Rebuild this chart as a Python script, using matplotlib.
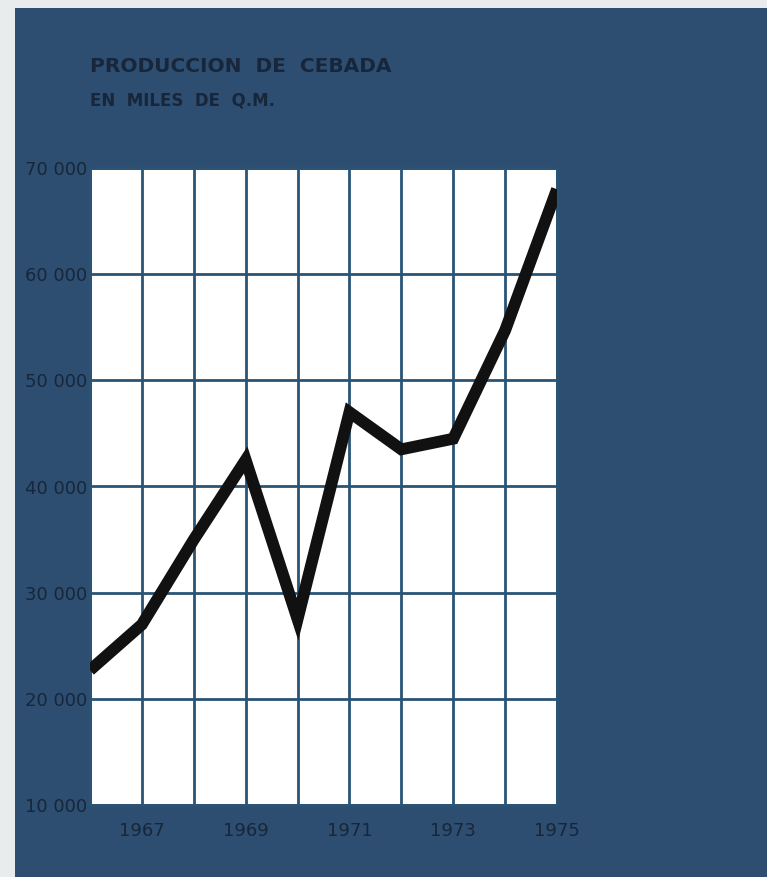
import matplotlib
matplotlib.use("Agg")
import matplotlib.pyplot as plt
from matplotlib.patches import Rectangle

# barley production, thousands of quintals
years = [1966, 1967, 1968, 1969, 1970, 1971, 1972, 1973, 1974, 1975]
production = [22700, 27000, 35000, 42500, 27500, 47000, 43500, 44500, 54700, 68000]

y_ticks = [10000, 20000, 30000, 40000, 50000, 60000, 70000]
y_labels = ["10 000", "20 000", "30 000", "40 000", "50 000", "60 000", "70 000"]
x_ticks = [1967, 1969, 1971, 1973, 1975]

BLUE = "#2d4e70"
GRID = "#2a5474"
INK = "#17263a"

fig = plt.figure(figsize=(7.67, 8.77), dpi=100)
fig.patch.set_facecolor("#e9ecec")
fig.patches.append(Rectangle((15 / 767, 0), 1, 1 - 8 / 877, transform=fig.transFigure,
                             facecolor=BLUE, edgecolor="none", zorder=-5))

ax = fig.add_axes([90 / 767, 72 / 877, 467 / 767, 637 / 877])
ax.set_facecolor("white")

ax.plot(years, production, color="#111111", lw=8.5, solid_joinstyle="miter",
        solid_capstyle="butt", zorder=3)

ax.set_xlim(1966, 1975)
ax.set_ylim(10000, 70000)
ax.set_xticks(years, minor=True)
ax.set_xticks(x_ticks)
ax.set_yticks(y_ticks)
ax.set_yticklabels(y_labels)
ax.grid(True, which="both", axis="x", color=GRID, lw=2)
ax.grid(True, axis="y", color=GRID, lw=2)
ax.tick_params(which="both", length=0)
ax.tick_params(axis="y", pad=2, labelsize=13, labelcolor=INK)
ax.tick_params(axis="x", pad=12, labelsize=13, labelcolor=INK)
for s in ax.spines.values():
    s.set_color(GRID)
    s.set_linewidth(2)

fig.text(90 / 767, 1 - 66 / 877, "PRODUCCION  DE  CEBADA", fontsize=14.5, fontweight="bold",
         color=INK, va="center", ha="left")
fig.text(90 / 767, 1 - 101 / 877, "EN  MILES  DE  Q.M.", fontsize=12, fontweight="bold",
         color=INK, va="center", ha="left")

fig.savefig("out.png", dpi=100, facecolor=fig.get_facecolor())
